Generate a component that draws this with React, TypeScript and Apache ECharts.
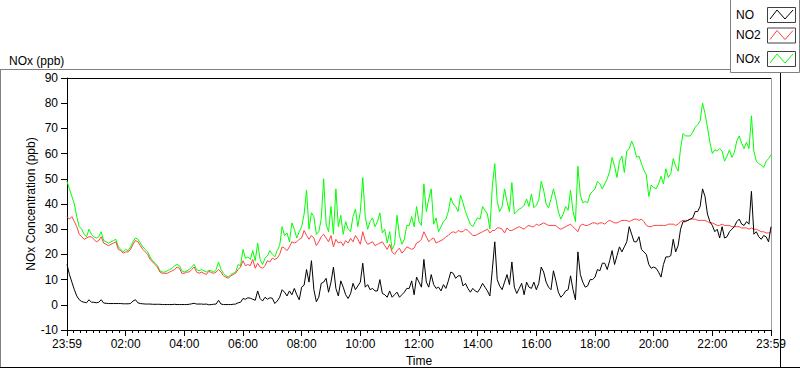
import React, { useEffect, useRef } from "react";
import * as echarts from "echarts";

const seriesNames = ["NO", "NO2", "NOx"];
const seriesColors = ["#000000", "#ff4040", "#00ff00"];
const timeStepMinutes = 5;
const xTickLabels = ["23:59", "02:00", "04:00", "06:00", "08:00", "10:00", "12:00", "14:00", "16:00", "18:00", "20:00", "22:00", "23:59"];
const yTicks = { min: -10, max: 90, step: 10 };
const chartTitle = "NOx (ppb)";
const xAxisName = "Time";
const yAxisName = "NOx Concentration (ppb)";

const NO = [
  16, 12, 9, 6, 3.5, 2, 1.3, 1, 0.8, 2, 1, 1, 0.8, 1, 2, 0.7, 0.6, 0.5, 0.5, 0.5,
  0.5, 0.5, 0.5, 0.4, 0.4, 0.4, 0.5, 1.5, 2, 0.8, 0.5, 0.4, 0.3, 0.3, 0.3, 0.2, 0.2, 0.2, 0.2, 0.1,
  0.1, 0.1, 0.1, 0.1, 0.2, 0.1, 0.1, 0.1, 0.1, 0.1, 0.2, 0.4, 0.6, 0.3, 0.3, 0.3, 0.2, 0.3,
  0, 0.1, 0.2, 0.3, 1.8, 0.3, 0.1, 0.1, 0.1, 0.1, 0.2, 0.3, 0.8, 1, 2.5, 2.2, 2.8, 2.6, 2.2, 1.8,
  5.5, 2.5, 1.5, 3, 2.2, 2.8, 2.6, 0.5, 1.5, 3, 6, 5, 3.5, 5.5, 4, 6.5, 4, 2, 7, 7.8,
  14, 9, 17.5, 6, 1.2, 3, 8.5, 9, 10.5, 5, 9, 15, 6.5, 3.5, 9.5, 7, 4, 2.5,
  4.4, 8.5, 6, 7.5, 9, 16.5, 7, 8, 6, 6.5, 5.5, 5.5, 10, 4.5, 4, 3, 5.5, 3, 4, 5,
  3, 4, 5, 6.5, 6.5, 9.5, 4, 11, 9, 7, 18, 9, 7, 12, 8, 6.5, 7, 5.5, 8, 6.5,
  9.5, 13, 12.5, 10.5, 11.5, 11.5, 7.5, 8.5, 6.5, 5, 6.5, 5.5, 5, 6.5, 8.5, 7, 5.5, 3.5,
  14, 25, 10, 7.5, 6, 9, 12, 8, 17, 7, 4.5, 6.5, 8.5, 4, 9, 7, 6.5, 9, 6, 8.5,
  15, 13, 9, 7, 6, 13.5, 9.5, 5, 3, 4, 5.5, 6, 11.5, 6, 2, 21, 12, 9, 7, 7.5,
  10, 10, 11, 14, 13.5, 16.5, 16.5, 14, 17.5, 21.5, 16, 19.5, 23, 21, 23, 25, 31,
  28, 25, 25, 27, 22, 21, 20, 16, 14.5, 15, 14.5, 13, 11, 16, 19, 19, 19.5, 26, 21, 23.5,
  30, 33, 33, 33.5, 34, 34.5, 37, 37, 39, 46, 43, 36, 33, 31.5, 29, 30, 26.5, 31, 26.5, 27,
  29, 30, 31, 33, 34, 32, 31.5, 33, 32, 45, 28, 29, 27, 26, 27.5, 27, 25, 31,
];

const NO2 = [
  35, 34, 35, 33, 31, 28, 27, 26, 26.5, 27, 27, 26, 25, 25.5, 27, 24.5, 24, 23.5, 24, 24.5,
  25, 22, 21.5, 20.5, 21, 21, 22, 24, 25.5, 25, 23.5, 22, 21, 20, 18, 17, 16, 15, 13, 12.5,
  12.5, 12.5, 13, 13.5, 14, 15, 14.5, 12.5, 12.5, 13, 13, 14, 15, 13, 12.5, 13, 12.5, 12,
  13.3, 12.8, 12.5, 13, 14, 13, 11.5, 11, 10.5, 11.5, 12, 12.5, 14, 15, 17.5, 15.5, 16, 15.5, 18, 14.5,
  16.5, 15, 14.5, 15.5, 17.5, 17, 18.5, 18, 18.5, 20, 23, 22.5, 21.5, 23, 25, 24.5, 25, 26, 26.5, 29.5,
  27.5, 26, 27.5, 26.5, 23.5, 25, 27, 28, 26.5, 25, 27.5, 23, 26, 24.5, 25, 23.5, 25.5, 24.5,
  26.4, 25, 27.5, 26, 24, 29, 25.5, 24, 24.5, 25, 23.5, 24, 24.5, 25, 23.5, 22, 24, 21, 20, 21.5,
  22.5, 20.5, 21.5, 23, 22.5, 22, 22.5, 24.5, 25, 26, 29, 27, 25, 26, 26.5, 24.5, 25, 25.5, 26, 27,
  27.5, 28.5, 29, 28.5, 29.5, 29, 29, 30, 29.5, 28.5, 27.5, 27.5, 28, 28.5, 29, 29.5, 30, 28.5,
  29.5, 29.5, 30.5, 30.5, 30, 28.5, 30.5, 29.5, 29.5, 30, 30.5, 31, 30.5, 30, 31, 31.5, 31, 31, 32, 31.5,
  32, 32.5, 32, 31.5, 31.5, 31.5, 31.5, 30.5, 30, 30.5, 31, 31.5, 32, 31, 30, 29, 31.5, 32, 31.5, 31.5,
  32, 32.5, 32.5, 32, 32.5, 32.5, 32, 33, 33.5, 33, 32.5, 32.5, 33, 33.5, 33.5, 33.5, 33,
  33.5, 34, 34, 33.5, 34, 33, 31.5, 31, 31, 31.5, 31.5, 31.5, 31.5, 31.5, 31.5, 32, 32, 32, 31.5, 32,
  33, 33.5, 33.5, 33.5, 34, 34, 34, 33.5, 33.5, 33.5, 33.5, 33, 32.5, 32.5, 32, 31.5, 31.5, 32, 31.5, 31.5,
  31.5, 31, 31, 31, 31, 30.5, 30.5, 30.5, 30, 30.5, 30, 30, 29.5, 29, 29, 28.5, 28.5, 29,
];

const NOx = [
  49, 46, 43, 40, 35, 31, 30, 28, 27, 30, 28, 27, 26.5, 27, 29, 25.5, 25, 24.5, 25, 25.5,
  26, 23, 22, 21, 22, 21.5, 23, 25, 26.5, 26, 24.5, 23, 22, 21, 19, 17.5, 16.5, 15.5, 13.5, 13,
  13, 13.5, 14, 14.5, 15.5, 16, 15.5, 13.5, 13, 13.5, 14, 15, 16, 14, 13.5, 14, 13.5, 13,
  13.7, 13.5, 13, 14, 17, 14, 12.5, 11.5, 11, 12, 12.5, 13, 16, 15.5, 22, 18.5, 19, 18, 21.5, 17.5,
  24.5, 18, 16, 18.5, 19.5, 21.5, 20, 19, 21.5, 23.5, 31, 27.5, 28.5, 25, 32.5, 30, 26.5, 29, 31, 36,
  45.5, 30, 36.5, 35, 28, 29, 34, 50, 32, 29, 39, 28, 46, 31, 35.5, 28, 33, 30,
  29, 35, 38, 31, 37, 50.5, 35, 30, 33, 34.5, 31, 33, 36.5, 28.5, 30, 24.5, 29, 22, 24, 35.5,
  27.5, 24, 26, 31.5, 31.5, 35, 31, 39, 33, 31.5, 48, 37, 42, 46, 32, 34.5, 29, 31, 33, 34,
  37, 42.5, 40, 39, 37, 43.5, 40.5, 37, 34.5, 32, 31, 33, 34.5, 34, 39, 37.5, 36, 30,
  47, 56, 41, 37, 39, 46, 41, 37, 48.5, 36, 37, 38, 38.5, 39.5, 42, 39, 44, 38.5, 39.5, 41.5,
  49, 45.5, 40, 38.5, 42, 46, 42, 37, 34, 36, 39, 37.5, 45.5, 37, 33, 55, 43.5, 40.5, 41, 40.5,
  44, 45, 46, 49, 48, 46, 48, 50, 53, 58.5, 55, 50.5, 57, 59, 52.5, 61, 62,
  65, 62.5, 58.5, 59, 56, 53.5, 51.5, 43, 47.5, 46.5, 46, 48, 51, 48, 54, 50.5, 52, 58, 55, 53,
  62, 68, 67, 67, 67, 68.5, 70.5, 71.5, 73, 80, 76, 70.5, 64.5, 60, 61.5, 61, 62, 61, 57, 59,
  61.5, 58.5, 60.5, 65, 67, 64, 62, 64.5, 62, 75, 61, 57, 56, 55.5, 54.5, 57, 58, 59.5,
];

const FONT = "'Liberation Sans', Arial, sans-serif";

export default function App() {
  const ref = useRef<HTMLDivElement>(null);
  useEffect(() => {
    const chart = echarts.init(ref.current!, null, { renderer: "svg" });
    const pts = (arr: number[]) => arr.map((v, i) => [i * timeStepMinutes, v]);
    const dataSets = [NO, NO2, NOx];
    const legendTop = [7, 27.5, 51];
    const legendGraphics: any[] = [
      { type: "rect", shape: { x: 730.5, y: -1, width: 69, height: 73.5 }, style: { fill: "#fff", stroke: "#808080", lineWidth: 1 } },
    ];
    seriesNames.forEach((name, k) => {
      const t = legendTop[k];
      legendGraphics.push(
        { type: "text", x: 736, y: t + 7.5, style: { text: name, font: `12px ${FONT}`, fill: "#000", verticalAlign: "middle" } },
        { type: "rect", shape: { x: 767.5, y: t + 0.5, width: 28, height: 15 }, style: { fill: "#fff", stroke: "#404040", lineWidth: 1 } },
        { type: "polyline", shape: { points: [[770, t + 12], [777, t + 3], [785, t + 12], [793, t + 3]] }, style: { stroke: seriesColors[k], lineWidth: 1, fill: null } }
      );
    });
    chart.setOption({
      animation: false,
      textStyle: { fontFamily: FONT },
      title: { text: chartTitle, left: 4, top: 50, textStyle: { fontSize: 12, fontWeight: "normal", color: "#000", fontFamily: FONT } },
      grid: { left: 67, top: 78, right: 29, bottom: 39 },
      xAxis: {
        type: "value",
        min: 0,
        max: 1440,
        interval: 120,
        axisLine: { show: true, onZero: false, lineStyle: { color: "#000" } },
        axisTick: { show: true, length: 6, lineStyle: { color: "#000" } },
        minorTick: { show: true, splitNumber: 9, length: 3, lineStyle: { color: "#000" } },
        axisLabel: { fontSize: 12, color: "#000", margin: 8, formatter: (v: number) => xTickLabels[Math.round(v / 120)] ?? "" },
        splitLine: { show: false },
      },
      yAxis: {
        type: "value",
        min: yTicks.min,
        max: yTicks.max,
        interval: yTicks.step,
        axisLine: { show: true, onZero: false, lineStyle: { color: "#000" } },
        axisTick: { show: true, length: 6, lineStyle: { color: "#000" } },
        axisLabel: { fontSize: 12, color: "#000", margin: 9 },
        splitLine: { show: false },
      },
      graphic: [
        { type: "line", shape: { x1: 0, y1: 69.5, x2: 730, y2: 69.5 }, style: { stroke: "#808080", lineWidth: 1 } },
        { type: "line", shape: { x1: 0.5, y1: 69, x2: 0.5, y2: 367 }, style: { stroke: "#808080", lineWidth: 1 } },
        { type: "line", shape: { x1: 0, y1: 367.5, x2: 800, y2: 367.5 }, style: { stroke: "#000", lineWidth: 1 } },
        { type: "line", shape: { x1: 780.5, y1: 72, x2: 780.5, y2: 368 }, style: { stroke: "#000", lineWidth: 1 } },
        { type: "line", shape: { x1: 67, y1: 78.5, x2: 772, y2: 78.5 }, style: { stroke: "#000", lineWidth: 1 } },
        { type: "line", shape: { x1: 771.5, y1: 78, x2: 771.5, y2: 330 }, style: { stroke: "#a0a0a0", lineWidth: 1 } },
        { type: "text", x: 419, y: 361, style: { text: xAxisName, font: `12px ${FONT}`, fill: "#000", align: "center", verticalAlign: "middle" } },
        { type: "text", x: 31, y: 204, rotation: Math.PI / 2, style: { text: yAxisName, font: `12px ${FONT}`, fill: "#000", align: "center", verticalAlign: "middle" } },
        ...legendGraphics,
      ],
      series: [NOx, NO2, NO].map((arr, j) => {
        const k = 2 - j;
        return {
          name: seriesNames[k],
          type: "line",
          data: pts(dataSets[k]),
          showSymbol: false,
          silent: true,
          z: 2 + j,
          lineStyle: { color: seriesColors[k], width: 1 },
        };
      }),
    });
    return () => chart.dispose();
  }, []);
  return <div ref={ref} style={{ position: "absolute", left: 0, top: 0, width: 800, height: 369 }} />;
}
